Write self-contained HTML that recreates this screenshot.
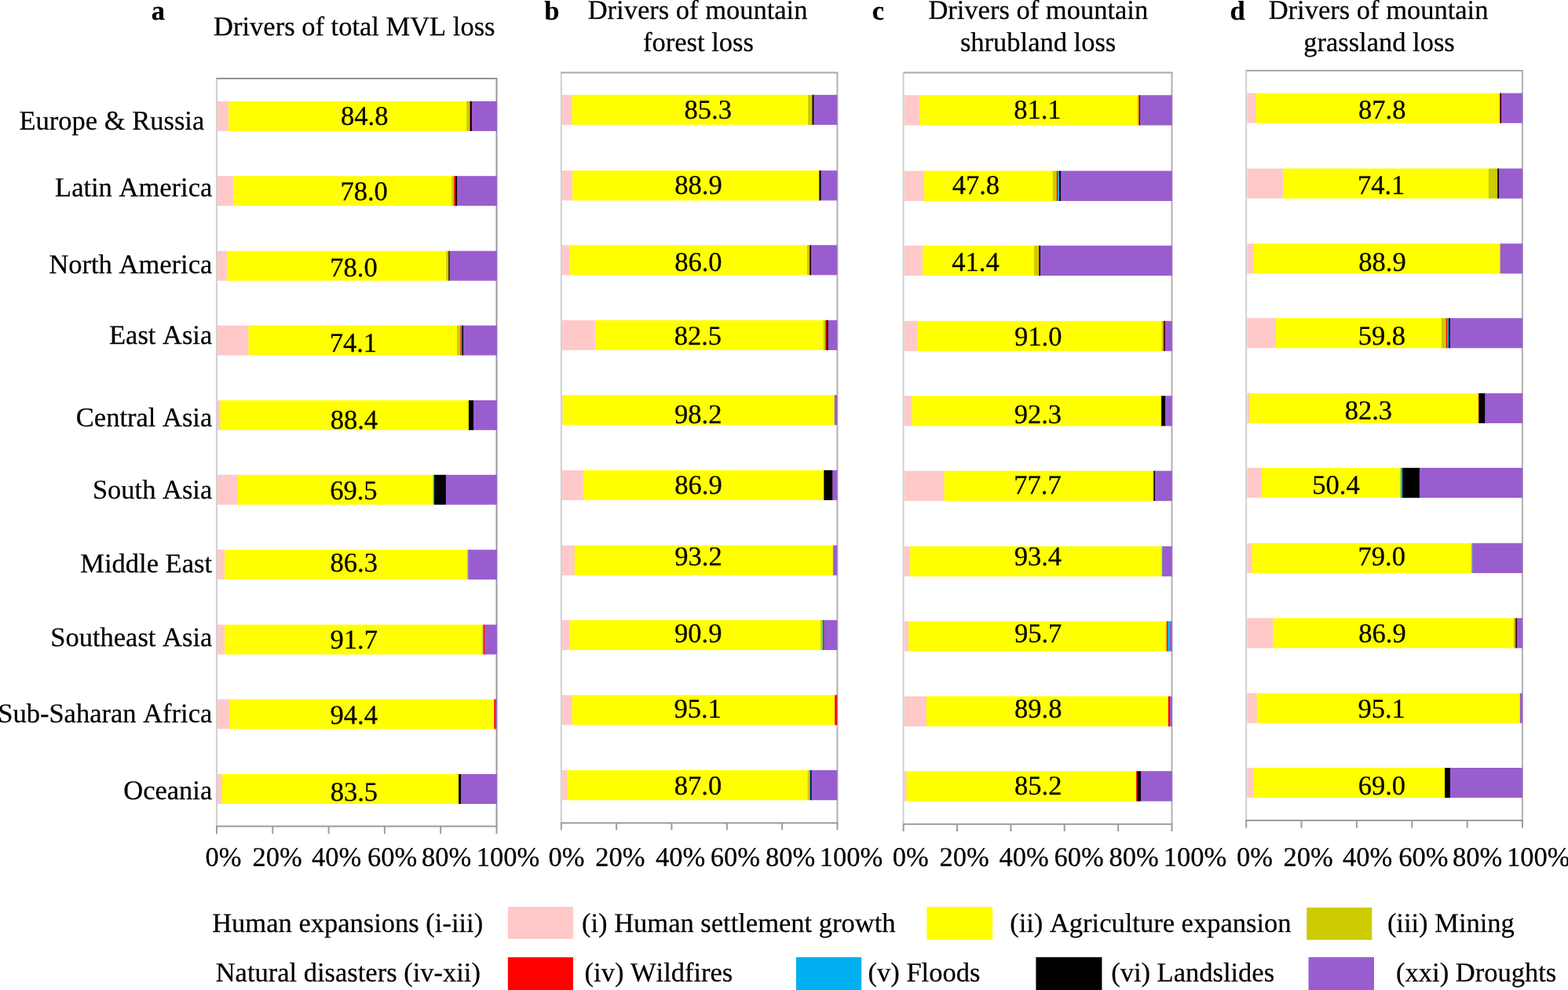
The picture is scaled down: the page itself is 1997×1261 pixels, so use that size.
<!DOCTYPE html>
<html lang="en"><head><meta charset="utf-8"><title>Drivers of mountain vegetated land loss</title>
<style>html,body{margin:0;padding:0;background:#fff}body{width:1997px;height:1261px;overflow:hidden}svg{display:block}text{font-family:"Liberation Serif","Times New Roman",Times,serif;font-size:34.5px;fill:#000;stroke:#000;stroke-width:0.25px;text-rendering:geometricPrecision;font-kerning:none}.b{font-weight:bold}</style>
</head><body>
<svg width="1997" height="1261" viewBox="0 0 1997 1261">
<rect width="1997" height="1261" fill="#ffffff"/>
<g id="panel-a">
<g fill="none" stroke-width="2">
<line x1="275.9" y1="99" x2="275.9" y2="1052.6" stroke="#cccece" stroke-width="1.9"/>
<line x1="275.9" y1="100" x2="633.5" y2="100" stroke="#939393"/>
<line x1="632.5" y1="100" x2="632.5" y2="1052.6" stroke="#999999"/>
<line x1="275.1" y1="1052.6" x2="633.5" y2="1052.6" stroke="#9c9c9c"/>
<line x1="276" y1="1052.6" x2="276" y2="1062" stroke="#9c9c9c"/>
<line x1="347.3" y1="1052.6" x2="347.3" y2="1062" stroke="#9c9c9c"/>
<line x1="418.6" y1="1052.6" x2="418.6" y2="1062" stroke="#9c9c9c"/>
<line x1="489.9" y1="1052.6" x2="489.9" y2="1062" stroke="#9c9c9c"/>
<line x1="561.2" y1="1052.6" x2="561.2" y2="1062" stroke="#9c9c9c"/>
<line x1="632.5" y1="1052.6" x2="632.5" y2="1062" stroke="#9c9c9c"/>
</g>
<g>
<rect x="276.7" y="129" width="14.8" height="38" fill="#ffc9c9"/>
<rect x="291.2" y="129" width="303.2" height="38" fill="#ffff00"/>
<rect x="594.1" y="129" width="4.4" height="38" fill="#cccc00"/>
<rect x="598.2" y="129" width="1.1" height="38" fill="#ff0000"/>
<rect x="599" y="129" width="2.1" height="38" fill="#000000"/>
<rect x="600.8" y="129" width="32.1" height="38" fill="#9a5dcf"/>
</g>
<g>
<rect x="276.7" y="224.2" width="20.7" height="38" fill="#ffc9c9"/>
<rect x="297.1" y="224.2" width="278.5" height="38" fill="#ffff00"/>
<rect x="575.3" y="224.2" width="3.3" height="38" fill="#cccc00"/>
<rect x="578.3" y="224.2" width="2.3" height="38" fill="#ff0000"/>
<rect x="580.3" y="224.2" width="2" height="38" fill="#000000"/>
<rect x="582" y="224.2" width="50.9" height="38" fill="#9a5dcf"/>
</g>
<g>
<rect x="276.7" y="319.6" width="12.6" height="38" fill="#ffc9c9"/>
<rect x="289" y="319.6" width="279.5" height="38" fill="#ffff00"/>
<rect x="568.2" y="319.6" width="3.4" height="38" fill="#cccc00"/>
<rect x="571.3" y="319.6" width="1.6" height="38" fill="#000000"/>
<rect x="572.6" y="319.6" width="60.3" height="38" fill="#9a5dcf"/>
</g>
<g>
<rect x="276.7" y="414.6" width="40.1" height="38" fill="#ffc9c9"/>
<rect x="316.5" y="414.6" width="265.8" height="38" fill="#ffff00"/>
<rect x="582" y="414.6" width="4.7" height="38" fill="#cccc00"/>
<rect x="586.4" y="414.6" width="1.3" height="38" fill="#ff0000"/>
<rect x="587.4" y="414.6" width="1.3" height="38" fill="#00b0f0"/>
<rect x="588.4" y="414.6" width="1.9" height="38" fill="#000000"/>
<rect x="590" y="414.6" width="42.9" height="38" fill="#9a5dcf"/>
</g>
<g>
<rect x="276.7" y="509.8" width="4.1" height="38" fill="#ffc9c9"/>
<rect x="280.5" y="509.8" width="316.7" height="38" fill="#ffff00"/>
<rect x="596.9" y="509.8" width="6.4" height="38" fill="#000000"/>
<rect x="603" y="509.8" width="29.9" height="38" fill="#9a5dcf"/>
</g>
<g>
<rect x="276.7" y="604.8" width="26.6" height="38" fill="#ffc9c9"/>
<rect x="303" y="604.8" width="248.9" height="38" fill="#ffff00"/>
<rect x="551.6" y="604.8" width="1.8" height="38" fill="#00b0f0"/>
<rect x="553.1" y="604.8" width="15" height="38" fill="#000000"/>
<rect x="567.8" y="604.8" width="65.1" height="38" fill="#9a5dcf"/>
</g>
<g>
<rect x="276.7" y="700.2" width="9.8" height="38" fill="#ffc9c9"/>
<rect x="286.2" y="700.2" width="309.6" height="38" fill="#ffff00"/>
<rect x="595.5" y="700.2" width="1.2" height="38" fill="#5aa0a0"/>
<rect x="596.4" y="700.2" width="36.5" height="38" fill="#9a5dcf"/>
</g>
<g>
<rect x="276.7" y="795.6" width="9.8" height="38" fill="#ffc9c9"/>
<rect x="286.2" y="795.6" width="328.2" height="38" fill="#ffff00"/>
<rect x="614.1" y="795.6" width="1.9" height="38" fill="#cccc00"/>
<rect x="615.7" y="795.6" width="2" height="38" fill="#ff0000"/>
<rect x="617.4" y="795.6" width="15.5" height="38" fill="#9a5dcf"/>
</g>
<g>
<rect x="276.7" y="890.6" width="15.8" height="38" fill="#ffc9c9"/>
<rect x="292.2" y="890.6" width="337.4" height="38" fill="#ffff00"/>
<rect x="629.3" y="890.6" width="2.3" height="38" fill="#ff0000"/>
<rect x="631.3" y="890.6" width="1.6" height="38" fill="#9a5dcf"/>
</g>
<g>
<rect x="276.7" y="986" width="6.6" height="38" fill="#ffc9c9"/>
<rect x="283" y="986" width="300.9" height="38" fill="#ffff00"/>
<rect x="583.6" y="986" width="0.9" height="38" fill="#cccc00"/>
<rect x="584.2" y="986" width="3.2" height="38" fill="#000000"/>
<rect x="587.1" y="986" width="45.8" height="38" fill="#9a5dcf"/>
</g>
<text x="434.01" y="158.8">84.8</text>
<text x="433.43" y="254.6">78.0</text>
<text x="420.33" y="352.3">78.0</text>
<text x="419.71" y="448.2">74.1</text>
<text x="420.63" y="546.3">88.4</text>
<text x="420.15" y="636.3">69.5</text>
<text x="420.53" y="727.6">86.3</text>
<text x="420.55" y="826.2">91.7</text>
<text x="420.53" y="921.7">94.4</text>
<text x="420.73" y="1019.7">83.5</text>
<text x="261.59" y="1102.6">0%</text>
<text x="321.48" y="1102.6">20%</text>
<text x="396.93" y="1102.6">40%</text>
<text x="468.02" y="1102.6">60%</text>
<text x="536.99" y="1102.6">80%</text>
<text x="606.67" y="1102.6">100%</text>
</g>
<g id="panel-b">
<g fill="none" stroke-width="2">
<line x1="714.8" y1="91.5" x2="714.8" y2="1048.2" stroke="#cccece" stroke-width="1.9"/>
<line x1="714.8" y1="92.5" x2="1067.4" y2="92.5" stroke="#a8a8a8"/>
<line x1="1066.4" y1="92.5" x2="1066.4" y2="1048.2" stroke="#b0b0b0"/>
<line x1="714" y1="1048.2" x2="1067.4" y2="1048.2" stroke="#9c9c9c"/>
<line x1="714.8" y1="1048.2" x2="714.8" y2="1057.2" stroke="#9c9c9c"/>
<line x1="785.1" y1="1048.2" x2="785.1" y2="1057.2" stroke="#9c9c9c"/>
<line x1="855.4" y1="1048.2" x2="855.4" y2="1057.2" stroke="#9c9c9c"/>
<line x1="925.8" y1="1048.2" x2="925.8" y2="1057.2" stroke="#9c9c9c"/>
<line x1="996.1" y1="1048.2" x2="996.1" y2="1057.2" stroke="#9c9c9c"/>
<line x1="1066.4" y1="1048.2" x2="1066.4" y2="1057.2" stroke="#9c9c9c"/>
</g>
<g>
<rect x="716" y="120.8" width="12.9" height="38.2" fill="#ffc9c9"/>
<rect x="728.6" y="120.8" width="300.7" height="38.2" fill="#ffff00"/>
<rect x="1029" y="120.8" width="5.8" height="38.2" fill="#cccc00"/>
<rect x="1034.5" y="120.8" width="2.3" height="38.2" fill="#000000"/>
<rect x="1036.5" y="120.8" width="29.8" height="38.2" fill="#9a5dcf"/>
</g>
<g>
<rect x="716" y="217.2" width="13.5" height="38.2" fill="#ffc9c9"/>
<rect x="729.2" y="217.2" width="314.3" height="38.2" fill="#ffff00"/>
<rect x="1043.2" y="217.2" width="0.9" height="38.2" fill="#ff0000"/>
<rect x="1043.8" y="217.2" width="2.1" height="38.2" fill="#000000"/>
<rect x="1045.6" y="217.2" width="20.7" height="38.2" fill="#9a5dcf"/>
</g>
<g>
<rect x="716" y="312.2" width="9.5" height="38.2" fill="#ffc9c9"/>
<rect x="725.2" y="312.2" width="303.1" height="38.2" fill="#ffff00"/>
<rect x="1028" y="312.2" width="3.2" height="38.2" fill="#cccc00"/>
<rect x="1030.9" y="312.2" width="1.1" height="38.2" fill="#ff0000"/>
<rect x="1031.7" y="312.2" width="1.5" height="38.2" fill="#000000"/>
<rect x="1032.9" y="312.2" width="33.4" height="38.2" fill="#9a5dcf"/>
</g>
<g>
<rect x="716" y="407.8" width="42.4" height="38.2" fill="#ffc9c9"/>
<rect x="758.1" y="407.8" width="290.9" height="38.2" fill="#ffff00"/>
<rect x="1048.7" y="407.8" width="2.9" height="38.2" fill="#cccc00"/>
<rect x="1051.3" y="407.8" width="1.9" height="38.2" fill="#ff0000"/>
<rect x="1052.9" y="407.8" width="2.1" height="38.2" fill="#000000"/>
<rect x="1054.7" y="407.8" width="11.6" height="38.2" fill="#9a5dcf"/>
</g>
<g>
<rect x="716" y="503.2" width="1" height="38.2" fill="#ffc9c9"/>
<rect x="716.7" y="503.2" width="346.4" height="38.2" fill="#ffff00"/>
<rect x="1062.8" y="503.2" width="3.5" height="38.2" fill="#9a5dcf"/>
</g>
<g>
<rect x="716" y="598.9" width="27.1" height="38.2" fill="#ffc9c9"/>
<rect x="742.8" y="598.9" width="306.8" height="38.2" fill="#ffff00"/>
<rect x="1049.3" y="598.9" width="11.4" height="38.2" fill="#000000"/>
<rect x="1060.4" y="598.9" width="5.9" height="38.2" fill="#9a5dcf"/>
</g>
<g>
<rect x="716" y="694.6" width="16.1" height="38.2" fill="#ffc9c9"/>
<rect x="731.8" y="694.6" width="329.3" height="38.2" fill="#ffff00"/>
<rect x="1060.8" y="694.6" width="1.5" height="38.2" fill="#5aa0a0"/>
<rect x="1062" y="694.6" width="4.3" height="38.2" fill="#9a5dcf"/>
</g>
<g>
<rect x="716" y="789.8" width="9.5" height="38.2" fill="#ffc9c9"/>
<rect x="725.2" y="789.8" width="320.1" height="38.2" fill="#ffff00"/>
<rect x="1045" y="789.8" width="2.9" height="38.2" fill="#cccc00"/>
<rect x="1047.6" y="789.8" width="1.3" height="38.2" fill="#00b0f0"/>
<rect x="1048.6" y="789.8" width="1.1" height="38.2" fill="#000000"/>
<rect x="1049.4" y="789.8" width="16.9" height="38.2" fill="#9a5dcf"/>
</g>
<g>
<rect x="716" y="885.3" width="12.9" height="38.2" fill="#ffc9c9"/>
<rect x="728.6" y="885.3" width="334.9" height="38.2" fill="#ffff00"/>
<rect x="1063.2" y="885.3" width="2.9" height="38.2" fill="#ff0000"/>
<rect x="1065.8" y="885.3" width="0.5" height="38.2" fill="#9a5dcf"/>
</g>
<g>
<rect x="716" y="981" width="6.3" height="38.2" fill="#ffc9c9"/>
<rect x="722" y="981" width="306.9" height="38.2" fill="#ffff00"/>
<rect x="1028.6" y="981" width="2.9" height="38.2" fill="#cccc00"/>
<rect x="1031.2" y="981" width="1.2" height="38.2" fill="#00b0f0"/>
<rect x="1032.1" y="981" width="1.8" height="38.2" fill="#000000"/>
<rect x="1033.6" y="981" width="32.7" height="38.2" fill="#9a5dcf"/>
</g>
<text x="871.53" y="150.8">85.3</text>
<text x="859.26" y="247.2">88.9</text>
<text x="859.21" y="344.9">86.0</text>
<text x="858.73" y="439.2">82.5</text>
<text x="859.11" y="538.9">98.2</text>
<text x="859.26" y="629.3">86.9</text>
<text x="859.31" y="719.6">93.2</text>
<text x="859.06" y="818.3">90.9</text>
<text x="858.39" y="913.9">95.1</text>
<text x="858.81" y="1011.7">87.0</text>
<text x="698.59" y="1102.6">0%</text>
<text x="758.28" y="1102.6">20%</text>
<text x="834.93" y="1102.6">40%</text>
<text x="904.72" y="1102.6">60%</text>
<text x="974.99" y="1102.6">80%</text>
<text x="1043.67" y="1102.6">100%</text>
</g>
<g id="panel-c">
<g fill="none" stroke-width="2">
<line x1="1150.6" y1="91.5" x2="1150.6" y2="1049.8" stroke="#cccece" stroke-width="1.9"/>
<line x1="1150.6" y1="92.5" x2="1493.5" y2="92.5" stroke="#a8a8a8"/>
<line x1="1492.5" y1="92.5" x2="1492.5" y2="1049.8" stroke="#b0b0b0"/>
<line x1="1149.8" y1="1049.8" x2="1493.5" y2="1049.8" stroke="#9c9c9c"/>
<line x1="1150.6" y1="1049.8" x2="1150.6" y2="1059" stroke="#9c9c9c"/>
<line x1="1219" y1="1049.8" x2="1219" y2="1059" stroke="#9c9c9c"/>
<line x1="1287.4" y1="1049.8" x2="1287.4" y2="1059" stroke="#9c9c9c"/>
<line x1="1355.7" y1="1049.8" x2="1355.7" y2="1059" stroke="#9c9c9c"/>
<line x1="1424.1" y1="1049.8" x2="1424.1" y2="1059" stroke="#9c9c9c"/>
<line x1="1492.5" y1="1049.8" x2="1492.5" y2="1059" stroke="#9c9c9c"/>
</g>
<g>
<rect x="1151.7" y="121.2" width="19.5" height="38.4" fill="#ffc9c9"/>
<rect x="1170.9" y="121.2" width="278.1" height="38.4" fill="#ffff00"/>
<rect x="1448.7" y="121.2" width="2" height="38.4" fill="#cccc00"/>
<rect x="1450.4" y="121.2" width="1.1" height="38.4" fill="#ff0000"/>
<rect x="1451.2" y="121.2" width="1.1" height="38.4" fill="#000000"/>
<rect x="1452" y="121.2" width="40.8" height="38.4" fill="#9a5dcf"/>
</g>
<g>
<rect x="1151.7" y="217.6" width="25.6" height="38.4" fill="#ffc9c9"/>
<rect x="1177" y="217.6" width="164.1" height="38.4" fill="#ffff00"/>
<rect x="1340.8" y="217.6" width="5.3" height="38.4" fill="#cccc00"/>
<rect x="1345.8" y="217.6" width="1.9" height="38.4" fill="#ff0000"/>
<rect x="1347.4" y="217.6" width="1.9" height="38.4" fill="#00b0f0"/>
<rect x="1349" y="217.6" width="2.2" height="38.4" fill="#000000"/>
<rect x="1350.9" y="217.6" width="141.9" height="38.4" fill="#9a5dcf"/>
</g>
<g>
<rect x="1151.7" y="312.8" width="23.8" height="38.4" fill="#ffc9c9"/>
<rect x="1175.2" y="312.8" width="142" height="38.4" fill="#ffff00"/>
<rect x="1316.9" y="312.8" width="6.4" height="38.4" fill="#cccc00"/>
<rect x="1323" y="312.8" width="0.9" height="38.4" fill="#ff0000"/>
<rect x="1323.6" y="312.8" width="1.5" height="38.4" fill="#000000"/>
<rect x="1324.8" y="312.8" width="168" height="38.4" fill="#9a5dcf"/>
</g>
<g>
<rect x="1151.7" y="408.8" width="16.7" height="38.4" fill="#ffc9c9"/>
<rect x="1168.1" y="408.8" width="311.9" height="38.4" fill="#ffff00"/>
<rect x="1479.7" y="408.8" width="2.3" height="38.4" fill="#cccc00"/>
<rect x="1481.7" y="408.8" width="1.3" height="38.4" fill="#ff0000"/>
<rect x="1482.7" y="408.8" width="1.3" height="38.4" fill="#000000"/>
<rect x="1483.7" y="408.8" width="9.1" height="38.4" fill="#9a5dcf"/>
</g>
<g>
<rect x="1151.7" y="504.2" width="10.2" height="38.4" fill="#ffc9c9"/>
<rect x="1161.6" y="504.2" width="317.8" height="38.4" fill="#ffff00"/>
<rect x="1479.1" y="504.2" width="5.3" height="38.4" fill="#000000"/>
<rect x="1484.1" y="504.2" width="8.7" height="38.4" fill="#9a5dcf"/>
</g>
<g>
<rect x="1151.7" y="599.7" width="51.3" height="38.4" fill="#ffc9c9"/>
<rect x="1202.7" y="599.7" width="266.8" height="38.4" fill="#ffff00"/>
<rect x="1469.2" y="599.7" width="1.9" height="38.4" fill="#000000"/>
<rect x="1470.8" y="599.7" width="22" height="38.4" fill="#9a5dcf"/>
</g>
<g>
<rect x="1151.7" y="695.8" width="7.8" height="38.4" fill="#ffc9c9"/>
<rect x="1159.2" y="695.8" width="320.8" height="38.4" fill="#ffff00"/>
<rect x="1479.7" y="695.8" width="1.2" height="38.4" fill="#5aa0a0"/>
<rect x="1480.6" y="695.8" width="12.2" height="38.4" fill="#9a5dcf"/>
</g>
<g>
<rect x="1151.7" y="791.3" width="5.8" height="38.4" fill="#ffc9c9"/>
<rect x="1157.2" y="791.3" width="328.8" height="38.4" fill="#ffff00"/>
<rect x="1485.7" y="791.3" width="1.9" height="38.4" fill="#ff0000"/>
<rect x="1487.3" y="791.3" width="2.4" height="38.4" fill="#00b0f0"/>
<rect x="1489.4" y="791.3" width="3.4" height="38.4" fill="#9a5dcf"/>
</g>
<g>
<rect x="1151.7" y="886.9" width="28.4" height="38.4" fill="#ffc9c9"/>
<rect x="1179.8" y="886.9" width="308.3" height="38.4" fill="#ffff00"/>
<rect x="1487.8" y="886.9" width="2.3" height="38.4" fill="#ff0000"/>
<rect x="1489.8" y="886.9" width="3" height="38.4" fill="#9a5dcf"/>
</g>
<g>
<rect x="1151.7" y="982.2" width="3.1" height="38.4" fill="#ffc9c9"/>
<rect x="1154.5" y="982.2" width="292.9" height="38.4" fill="#ffff00"/>
<rect x="1447.1" y="982.2" width="1.8" height="38.4" fill="#ff0000"/>
<rect x="1448.6" y="982.2" width="4.6" height="38.4" fill="#000000"/>
<rect x="1452.9" y="982.2" width="39.9" height="38.4" fill="#9a5dcf"/>
</g>
<text x="1291.19" y="150.8">81.1</text>
<text x="1212.63" y="246.8">47.8</text>
<text x="1212.25" y="344.9">41.4</text>
<text x="1292.11" y="439.8">91.0</text>
<text x="1291.63" y="538.9">92.3</text>
<text x="1291.37" y="629.3">77.7</text>
<text x="1291.73" y="720.2">93.4</text>
<text x="1291.95" y="818.3">95.7</text>
<text x="1292.01" y="914.3">89.8</text>
<text x="1292.11" y="1011.7">85.2</text>
<text x="1136.69" y="1102.6">0%</text>
<text x="1196.48" y="1102.6">20%</text>
<text x="1272.43" y="1102.6">40%</text>
<text x="1342.52" y="1102.6">60%</text>
<text x="1412.49" y="1102.6">80%</text>
<text x="1481.67" y="1102.6">100%</text>
</g>
<g id="panel-d">
<g fill="none" stroke-width="2">
<line x1="1587.2" y1="89" x2="1587.2" y2="1045" stroke="#cccece" stroke-width="1.9"/>
<line x1="1587.2" y1="90" x2="1939.9" y2="90" stroke="#a8a8a8"/>
<line x1="1938.9" y1="90" x2="1938.9" y2="1045" stroke="#b0b0b0"/>
<line x1="1586.4" y1="1045" x2="1939.9" y2="1045" stroke="#9c9c9c"/>
<line x1="1587.2" y1="1045" x2="1587.2" y2="1054.5" stroke="#9c9c9c"/>
<line x1="1657.5" y1="1045" x2="1657.5" y2="1054.5" stroke="#9c9c9c"/>
<line x1="1727.9" y1="1045" x2="1727.9" y2="1054.5" stroke="#9c9c9c"/>
<line x1="1798.2" y1="1045" x2="1798.2" y2="1054.5" stroke="#9c9c9c"/>
<line x1="1868.6" y1="1045" x2="1868.6" y2="1054.5" stroke="#9c9c9c"/>
<line x1="1938.9" y1="1045" x2="1938.9" y2="1054.5" stroke="#9c9c9c"/>
</g>
<g>
<rect x="1588.3" y="118.6" width="11.8" height="38.2" fill="#ffc9c9"/>
<rect x="1599.8" y="118.6" width="310.5" height="38.2" fill="#ffff00"/>
<rect x="1910" y="118.6" width="1.1" height="38.2" fill="#ff0000"/>
<rect x="1910.8" y="118.6" width="1.5" height="38.2" fill="#000000"/>
<rect x="1912" y="118.6" width="27.1" height="38.2" fill="#9a5dcf"/>
</g>
<g>
<rect x="1588.3" y="214.6" width="46.6" height="38.2" fill="#ffc9c9"/>
<rect x="1634.6" y="214.6" width="261.5" height="38.2" fill="#ffff00"/>
<rect x="1895.8" y="214.6" width="11.4" height="38.2" fill="#cccc00"/>
<rect x="1906.9" y="214.6" width="1" height="38.2" fill="#ff0000"/>
<rect x="1907.6" y="214.6" width="1.7" height="38.2" fill="#000000"/>
<rect x="1909" y="214.6" width="30.1" height="38.2" fill="#9a5dcf"/>
</g>
<g>
<rect x="1588.3" y="310.3" width="8.8" height="38.2" fill="#ffc9c9"/>
<rect x="1596.8" y="310.3" width="314.1" height="38.2" fill="#ffff00"/>
<rect x="1910.6" y="310.3" width="28.5" height="38.2" fill="#9a5dcf"/>
</g>
<g>
<rect x="1588.3" y="405.2" width="37.1" height="38.2" fill="#ffc9c9"/>
<rect x="1625.1" y="405.2" width="211" height="38.2" fill="#ffff00"/>
<rect x="1835.8" y="405.2" width="6.3" height="38.2" fill="#cccc00"/>
<rect x="1841.8" y="405.2" width="1.8" height="38.2" fill="#ff0000"/>
<rect x="1843.3" y="405.2" width="2" height="38.2" fill="#00b0f0"/>
<rect x="1845" y="405.2" width="2.2" height="38.2" fill="#000000"/>
<rect x="1846.9" y="405.2" width="92.2" height="38.2" fill="#9a5dcf"/>
</g>
<g>
<rect x="1588.3" y="500.9" width="3.7" height="38.2" fill="#ffc9c9"/>
<rect x="1591.7" y="500.9" width="291.5" height="38.2" fill="#ffff00"/>
<rect x="1882.9" y="500.9" width="0.9" height="38.2" fill="#ff0000"/>
<rect x="1883.5" y="500.9" width="8.2" height="38.2" fill="#000000"/>
<rect x="1891.4" y="500.9" width="47.7" height="38.2" fill="#9a5dcf"/>
</g>
<g>
<rect x="1588.3" y="595.9" width="18.9" height="38.2" fill="#ffc9c9"/>
<rect x="1606.9" y="595.9" width="177.2" height="38.2" fill="#ffff00"/>
<rect x="1783.8" y="595.9" width="2.7" height="38.2" fill="#00b0f0"/>
<rect x="1786.2" y="595.9" width="22" height="38.2" fill="#000000"/>
<rect x="1807.9" y="595.9" width="131.2" height="38.2" fill="#9a5dcf"/>
</g>
<g>
<rect x="1588.3" y="691.8" width="6.8" height="38.2" fill="#ffc9c9"/>
<rect x="1594.8" y="691.8" width="279.7" height="38.2" fill="#ffff00"/>
<rect x="1874.2" y="691.8" width="1.5" height="38.2" fill="#5aa0a0"/>
<rect x="1875.4" y="691.8" width="63.7" height="38.2" fill="#9a5dcf"/>
</g>
<g>
<rect x="1588.3" y="787.3" width="33.4" height="38.2" fill="#ffc9c9"/>
<rect x="1621.4" y="787.3" width="306.7" height="38.2" fill="#ffff00"/>
<rect x="1927.8" y="787.3" width="2.3" height="38.2" fill="#cccc00"/>
<rect x="1929.8" y="787.3" width="1.5" height="38.2" fill="#ff0000"/>
<rect x="1931" y="787.3" width="1.1" height="38.2" fill="#000000"/>
<rect x="1931.8" y="787.3" width="7.3" height="38.2" fill="#9a5dcf"/>
</g>
<g>
<rect x="1588.3" y="882.9" width="12.8" height="38.2" fill="#ffc9c9"/>
<rect x="1600.8" y="882.9" width="335.3" height="38.2" fill="#ffff00"/>
<rect x="1935.8" y="882.9" width="3.3" height="38.2" fill="#9a5dcf"/>
</g>
<g>
<rect x="1588.3" y="978" width="9" height="38.2" fill="#ffc9c9"/>
<rect x="1597" y="978" width="243.4" height="38.2" fill="#ffff00"/>
<rect x="1840.1" y="978" width="7" height="38.2" fill="#000000"/>
<rect x="1846.8" y="978" width="92.3" height="38.2" fill="#9a5dcf"/>
</g>
<text x="1730.01" y="151.3">87.8</text>
<text x="1728.91" y="246.9">74.1</text>
<text x="1730.26" y="344.7">88.9</text>
<text x="1729.67" y="439.3">59.8</text>
<text x="1712.63" y="533.7">82.3</text>
<text x="1671.28" y="628.9">50.4</text>
<text x="1729.53" y="719.8">79.0</text>
<text x="1730.26" y="818.3">86.9</text>
<text x="1729.49" y="913.9">95.1</text>
<text x="1729.73" y="1011.7">69.0</text>
<text x="1574.99" y="1102.6">0%</text>
<text x="1634.38" y="1102.6">20%</text>
<text x="1710.03" y="1102.6">40%</text>
<text x="1781.32" y="1102.6">60%</text>
<text x="1849.89" y="1102.6">80%</text>
<text x="1919.07" y="1102.6">100%</text>
</g>
<g id="titles">
<text x="192.69" y="25" class="b">a</text>
<text x="693.36" y="25" class="b">b</text>
<text x="1110.82" y="25" class="b">c</text>
<text x="1566.5" y="25" class="b">d</text>
<text x="272.11" y="44.9">Drivers of total MVL loss</text>
<text x="748.68" y="23.6">Drivers of mountain</text>
<text x="819.06" y="64.9">forest loss</text>
<text x="1182.38" y="23.6">Drivers of mountain</text>
<text x="1222.93" y="64.9">shrubland loss</text>
<text x="1615.68" y="23.6">Drivers of mountain</text>
<text x="1660.17" y="64.9">grassland loss</text>
</g>
<g id="categories">
<text x="24.55" y="164.7">Europe &amp; Russia</text>
<text x="70.07" y="249.95">Latin America</text>
<text x="62.39" y="347.7">North America</text>
<text x="139.01" y="437.8">East Asia</text>
<text x="96.86" y="542.6">Central Asia</text>
<text x="117.88" y="635.1">South Asia</text>
<text x="102.32" y="729.3">Middle East</text>
<text x="64.25" y="823">Southeast Asia</text>
<text x="-2.75" y="920.4">Sub-Saharan Africa</text>
<text x="157.27" y="1018.4">Oceania</text>
</g>
<g id="legend">
<rect x="646.8" y="1155.1" width="83.2" height="40.8" fill="#ffc9c9"/>
<rect x="1180.3" y="1155.1" width="83.8" height="41.9" fill="#ffff00"/>
<rect x="1664.2" y="1156" width="83.1" height="41.2" fill="#cccc00"/>
<rect x="646.8" y="1219.3" width="83.2" height="42" fill="#ff0000"/>
<rect x="1013.9" y="1219.2" width="83.3" height="42" fill="#00b0f0"/>
<rect x="1319.4" y="1219.2" width="84" height="42" fill="#000000"/>
<rect x="1666.5" y="1219.2" width="83.5" height="42" fill="#9a5dcf"/>
<text x="270.21" y="1187">Human expansions (i-iii)</text>
<text x="274.71" y="1250">Natural disasters (iv-xii)</text>
<text x="740.98" y="1187">(i) Human settlement growth</text>
<text x="744.58" y="1250">(iv) Wildfires</text>
<text x="1105.58" y="1250">(v) Floods</text>
<text x="1286.18" y="1187">(ii) Agriculture expansion</text>
<text x="1766.88" y="1187">(iii) Mining</text>
<text x="1415.18" y="1250">(vi) Landslides</text>
<text x="1778.08" y="1250">(xxi) Droughts</text>
</g>
</svg></body></html>
